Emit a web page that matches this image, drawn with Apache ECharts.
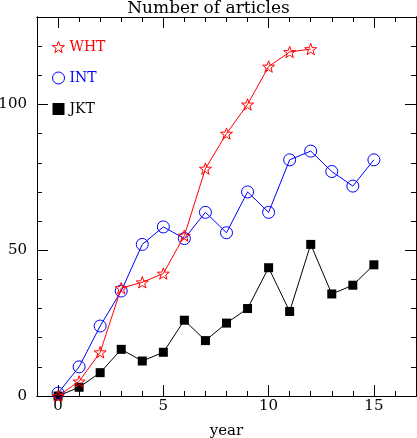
<!DOCTYPE html>
<html>
<head>
<meta charset="utf-8">
<script src="https://cdn.jsdelivr.net/npm/echarts@6/dist/echarts.min.js"></script>
<style>
html,body{margin:0;padding:0;background:#fff;}
#chart{width:417px;height:438px;}
</style>
</head>
<body>
<div id="chart"></div>
<script>
var years = [0,1,2,3,4,5,6,7,8,9,10,11,12,13,14,15];
var whtValues = [0,5,15,37,39,42,55,78,90,100,113,118,119];
var intValues = [1,10,24,36,52,58,54,63,56,70,63,81,84,77,72,81];
var jktValues = [0,3,8,16,12,15,26,19,25,30,44,29,52,35,38,45];
var xMajorTicks = [0,5,10,15];
var xMinorTicks = [-1,0,1,2,3,4,5,6,7,8,9,10,11,12,13,14,15,16,17];
var yMajorTicks = [0,50,100];
var yMinorTicks = [0,10,20,30,40,50,60,70,80,90,100,110,120,130];

function pairs(vals){ return vals.map(function(v,i){ return [years[i], v]; }); }

var FONT = 'DejaVu Serif';
var STAR = 'path://M10,0 L12.35,6.76 L19.51,6.91 L13.8,11.24 L15.88,18.09 L10,14 L4.12,18.09 L6.2,11.24 L0.49,6.91 L7.65,6.76 Z';

function xAxisDef(grid, pos, ticks, len, labels){
  return {
    type:'value', gridIndex:grid, position:pos, min:-1, max:17,
    axisLine:{show:true, onZero:false, lineStyle:{color:'#000', width:1}},
    axisTick:{show:true, inside:true, length:len, customValues:ticks, lineStyle:{color:'#000', width:1}},
    axisLabel:{show:labels, customValues:ticks, margin:3, color:'#000', fontFamily:FONT, fontSize:15},
    splitLine:{show:false}
  };
}
function yAxisDef(grid, pos, ticks, len, labels){
  return {
    type:'value', gridIndex:grid, position:pos, min:0, max:130,
    axisLine:{show:true, onZero:false, lineStyle:{color:'#000', width:1}},
    axisTick:{show:true, inside:true, length:len, customValues:ticks, lineStyle:{color:'#000', width:1}},
    axisLabel:{show:labels, customValues:ticks, margin:10, color:'#000', fontFamily:FONT, fontSize:15},
    splitLine:{show:false}
  };
}

var xb = xAxisDef(0, 'bottom', xMajorTicks, 11, true);
xb.name = 'year'; xb.nameLocation = 'middle'; xb.nameGap = 28;
xb.nameTextStyle = {color:'#000', fontFamily:FONT, fontSize:15};

var gridBox = {left:37, right:1, top:17, bottom:42, containLabel:false, outerBoundsMode:'none'};

var chart = echarts.init(document.getElementById('chart'), null, {renderer:'canvas'});
chart.setOption({
  animation:false,
  backgroundColor:'#fff',
  title:{text:'Number of articles', left:'center', top:0, padding:0,
    textStyle:{fontFamily:FONT, fontSize:17, fontWeight:'normal', color:'#000'}},
  grid:[Object.assign({}, gridBox), Object.assign({}, gridBox)],
  legend:{
    orient:'vertical', left:52, top:40, padding:0, itemWidth:12, itemHeight:12, itemGap:17,
    textStyle:{fontFamily:FONT, fontSize:14},
    data:[
      {name:'WHT', icon:STAR, itemStyle:{color:'rgba(0,0,0,0)', borderColor:'#ff0000', borderWidth:1}, textStyle:{color:'#ff0000'}},
      {name:'INT', icon:'circle', itemStyle:{color:'rgba(0,0,0,0)', borderColor:'#0000ff', borderWidth:1}, textStyle:{color:'#0000ff'}},
      {name:'JKT', icon:'rect', itemStyle:{color:'#000', borderWidth:0}, textStyle:{color:'#000'}}
    ]
  },
  xAxis:[xb, xAxisDef(0, 'top', xMajorTicks, 11, false), xAxisDef(1, 'bottom', xMinorTicks, 5, false), xAxisDef(1, 'top', xMinorTicks, 5, false)],
  yAxis:[yAxisDef(0, 'left', yMajorTicks, 11, true), yAxisDef(0, 'right', yMajorTicks, 11, false), yAxisDef(1, 'left', yMinorTicks, 5, false), yAxisDef(1, 'right', yMinorTicks, 5, false)],
  series:[
    {name:'WHT', type:'line', xAxisIndex:0, yAxisIndex:0, data:pairs(whtValues), symbol:STAR, symbolSize:12, symbolKeepAspect:true,
      itemStyle:{color:'rgba(0,0,0,0)', borderColor:'#ff0000', borderWidth:1},
      lineStyle:{color:'#ff0000', width:1}, z:3},
    {name:'INT', type:'line', xAxisIndex:0, yAxisIndex:0, data:pairs(intValues), symbol:'circle', symbolSize:12,
      itemStyle:{color:'rgba(0,0,0,0)', borderColor:'#0000ff', borderWidth:1},
      lineStyle:{color:'#0000ff', width:1}, z:2},
    {name:'JKT', type:'line', xAxisIndex:0, yAxisIndex:0, data:pairs(jktValues), symbol:'rect', symbolSize:9,
      itemStyle:{color:'#000', borderWidth:0},
      lineStyle:{color:'#000', width:1}, z:1}
  ]
});
</script>
</body>
</html>
